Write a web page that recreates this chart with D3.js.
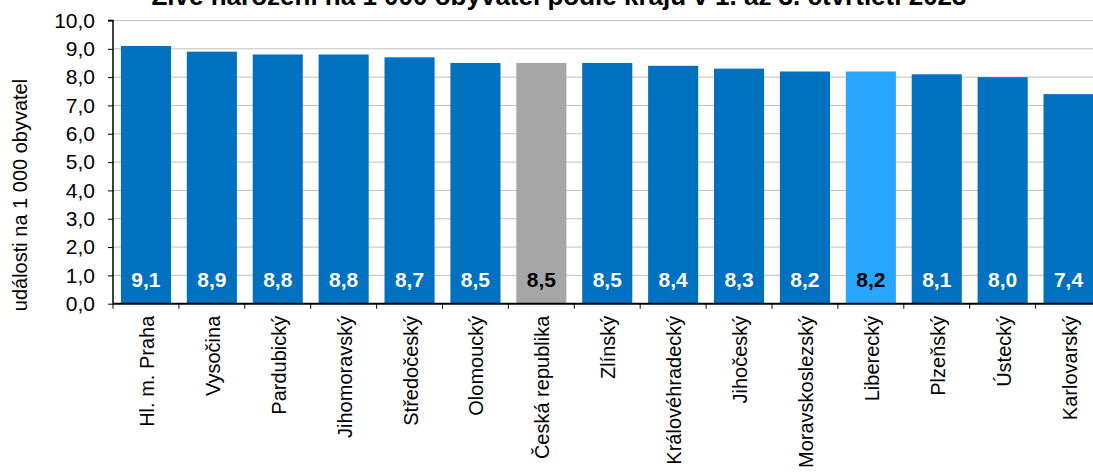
<!DOCTYPE html>
<html><head><meta charset="utf-8">
<script src="https://cdn.jsdelivr.net/npm/d3@7"></script>
<style>
html,body{margin:0;padding:0;background:#fff;overflow:hidden;}
svg{display:block;font-family:"Liberation Sans",Arial,sans-serif;}
</style></head>
<body>
<svg id="c" width="1093" height="474"></svg>
<script>
const categories = ["Hl. m. Praha","Vysočina","Pardubický","Jihomoravský","Středočeský","Olomoucký","Česká republika","Zlínský","Královéhradecký","Jihočeský","Moravskoslezský","Liberecký","Plzeňský","Ústecký","Karlovarský"];
const values = [9.1,8.9,8.8,8.8,8.7,8.5,8.5,8.5,8.4,8.3,8.2,8.2,8.1,8.0,7.4];
const yTicks = [0,1,2,3,4,5,6,7,8,9,10];
const title = "Živě narození na 1 000 obyvatel podle krajů v 1. až 3. čtvrtletí 2023";
const yTitle = "události na 1 000 obyvatel";

const svg = d3.select("#c");
const m = {left:113, top:20.5, right:1101.5, bottom:303.7};
const x = d3.scaleBand().domain(categories).range([m.left, m.right]).paddingInner(0.24).paddingOuter(0.12);
const y = d3.scaleLinear().domain([0,10]).range([m.bottom, m.top]);

const fill = c => c==="Česká republika" ? "#A6A6A6" : (c==="Liberecký" ? "#29A6FF" : "#0070C0");
const labCol = c => (c==="Česká republika" || c==="Liberecký") ? "#000" : "#fff";
const fmt = v => d3.format(".1f")(v).replace(".", ",");

// grid
svg.append("g").selectAll("line").data(yTicks.filter(d=>d>0)).join("line")
  .attr("x1", m.left).attr("x2", m.right).attr("y1", d=>y(d)).attr("y2", d=>y(d))
  .attr("stroke", "#BFBFBF").attr("stroke-width", 1);

// bars
svg.append("g").selectAll("rect").data(categories).join("rect")
  .attr("x", d=>x(d)).attr("width", x.bandwidth())
  .attr("y", (d,i)=>y(values[i])).attr("height", (d,i)=>y(0)-y(values[i]))
  .attr("fill", d=>fill(d));

// value labels
svg.append("g").selectAll("text").data(categories).join("text")
  .attr("x", d=>x(d)+x.bandwidth()/2).attr("y", 287)
  .attr("text-anchor","middle").attr("font-weight","bold").attr("font-size", 21)
  .attr("fill", d=>labCol(d))
  .text((d,i)=>fmt(values[i]));

// y axis
const yAxis = d3.axisLeft(y).tickValues(yTicks).tickSize(5).tickPadding(13).tickFormat(fmt);
const gy = svg.append("g").attr("transform", `translate(${m.left},0)`).call(yAxis);
gy.select(".domain").attr("stroke","#000").attr("stroke-width",1.5).attr("d", `M-5,${m.top}H0V${m.bottom}`);
gy.selectAll(".tick line").attr("stroke","#000");
gy.selectAll(".tick text").attr("font-size",21).attr("fill","#000").attr("font-family","Liberation Sans, Arial, sans-serif");

// x axis
const step = x.step();
const bounds = d3.range(categories.length+1).map(i=>m.left + i*step);
svg.append("line").attr("x1", m.left).attr("x2", m.right).attr("y1", m.bottom).attr("y2", m.bottom)
  .attr("stroke","#000").attr("stroke-width",2);
svg.append("g").selectAll("line").data(bounds).join("line")
  .attr("x1", d=>d).attr("x2", d=>d).attr("y1", m.bottom).attr("y2", m.bottom+5)
  .attr("stroke","#000");
svg.append("g").selectAll("text").data(categories).join("text")
  .attr("transform", d=>`translate(${x(d)+x.bandwidth()/2+8},${m.bottom+12}) rotate(-90)`)
  .attr("text-anchor","end").attr("font-size",20).attr("fill","#000")
  .text(d=>d);

// y title
svg.append("text").attr("transform", `translate(27,195) rotate(-90)`)
  .attr("text-anchor","middle").attr("font-size",20).attr("fill","#000").text(yTitle);

// title
svg.append("text").attr("x", 559).attr("y", 5).attr("text-anchor","middle")
  .attr("font-weight","bold").attr("font-size",26).attr("fill","#000").text(title);
</script>
</body></html>
